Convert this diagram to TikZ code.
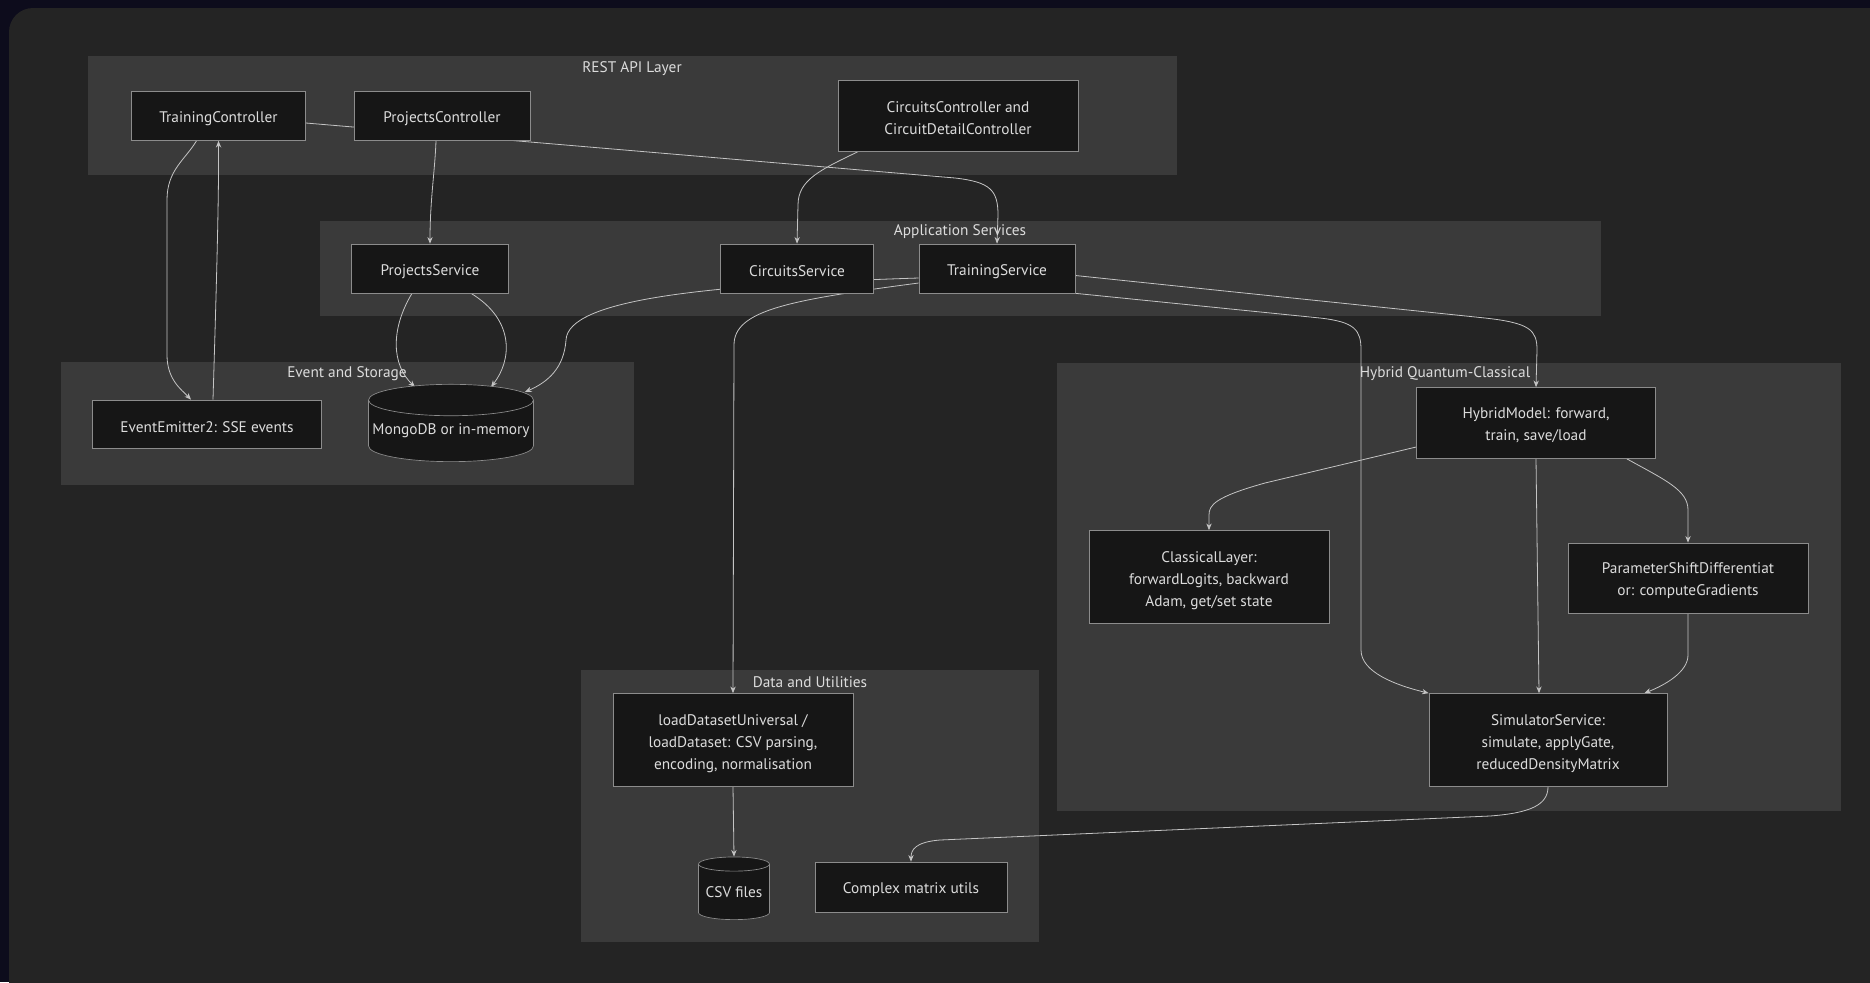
\documentclass[tikz,border=0pt]{standalone}
\usepackage{fontspec}
\setmainfont{PT Sans}
\usetikzlibrary{calc,positioning,shapes.geometric,backgrounds,arrows.meta}
\pgfdeclarelayer{edgelayer}
\pgfsetlayers{background,edgelayer,main}
\definecolor{frame}{HTML}{0D0C1C}
\definecolor{panel}{HTML}{242424}
\definecolor{cluster}{HTML}{3A3A3A}
\definecolor{boxfill}{HTML}{161616}
\definecolor{boxline}{HTML}{8C8C8C}
\definecolor{ink}{HTML}{DCDCDC}
\definecolor{wire}{HTML}{C4C4C4}

\begin{document}
\begin{tikzpicture}
  [x=0.75pt,y=0.75pt,>={Stealth[length=5pt,width=4pt]},
   every node/.style={font=\fontsize{11.5}{16.5}\selectfont,text=ink},
   box/.style={rectangle,draw=boxline,fill=boxfill,line width=0.5pt,align=center,inner sep=0pt,
     minimum height=36.75pt,execute at begin node={\rule{0pt}{12.5pt}}},
   twoline/.style={box,text height=28.5pt},
   tallbox/.style={box,minimum width=180pt,minimum height=69.75pt,text height=46.3pt},
   store/.style={cylinder,shape border rotate=90,draw=boxline,fill=boxfill,line width=0.5pt,inner sep=0pt},
   group/.style={fill=cluster},
   link/.style={draw=wire,line width=0.6pt,->}]
  \useasboundingbox (0,0) rectangle (1870,-982);
  \clip (0,0) rectangle (1870,-982);

  % REST API Layer
  \node (ntc) [box,minimum width=130.5pt] at (218.5,-116) {TrainingController};
  \node (npc) [box,minimum width=132pt] at (442,-116) {ProjectsController};
  \node (ncc) [twoline,minimum width=180pt,minimum height=53.25pt] at (958,-116) {CircuitsController and\\CircuitDetailController};
  \node (nrestlabel) at (632,-69) {REST API Layer};

  % Application Services
  \node (nps) [box,minimum width=117.75pt] at (430,-268.5) {ProjectsService};
  \node (ncs) [box,minimum width=114.75pt] at (797,-268.5) {CircuitsService};
  \node (nts) [box,minimum width=117pt] at (997,-268.5) {TrainingService};
  \node (napplabel) at (960,-232) {Application Services};

  % Event and Storage
  \node (nee) [box,minimum width=171.75pt,minimum height=36pt] at (207,-424) {EventEmitter2: SSE events};
  \node (ndb) [store,aspect=0.2,minimum width=123.75pt,minimum height=58pt] at (451,-431) {MongoDB or in-memory};
  \node (neventlabel) at (347,-374) {Event and Storage};

  % Hybrid Quantum-Classical
  \node (nhm) [twoline,minimum width=179.25pt,minimum height=53.25pt] at (1536,-423) {HybridModel: forward,\\train, save/load};
  \node (ncl) [tallbox] at (1209,-577) {ClassicalLayer:\\forwardLogits, backward\\Adam, get/set state};
  \node (npsd) [twoline,minimum width=180pt,minimum height=52.5pt] at (1688,-578) {ParameterShiftDifferentiat\\or: computeGradients};
  \node (nss) [tallbox,minimum width=178.5pt] at (1548,-740) {SimulatorService:\\simulate, applyGate,\\reducedDensityMatrix};
  \node (nhybridlabel) at (1445,-374) {Hybrid Quantum-Classical};

  % Data and Utilities
  \node (nld) [tallbox] at (733,-740) {loadDatasetUniversal /\\loadDataset: CSV parsing,\\encoding, normalisation};
  \node (ncsv) [store,aspect=0.25,minimum width=53.25pt,minimum height=47pt] at (734,-892) {CSV files};
  \node (ncmu) [box,minimum width=144pt,minimum height=37.5pt] at (911,-887) {Complex matrix utils};
  \node (ndatalabel) at (810,-682) {Data and Utilities};

  \begin{pgfonlayer}{background}
    \fill[frame] (0,0) rectangle (1870,-982);
    \fill[panel,rounded corners=18pt] (9,-8) rectangle (1900,-1010);
    \fill[group] (88,-56) rectangle (1177,-175);
    \fill[group] (320,-221) rectangle (1601,-316);
    \fill[group] (61,-362) rectangle (634,-485);
    \fill[group] (1057,-363) rectangle (1841,-811);
    \fill[group] (581,-670) rectangle (1039,-942);
  \end{pgfonlayer}

  \begin{pgfonlayer}{edgelayer}
    % controllers
    \draw[link] ($(ntc.south)+(-22,0)$) .. controls (185,-160) and (167,-170) .. (167,-200)
      -- (167,-355) .. controls (167,-380) and (182,-390) .. ($(nee.north)+(-16,0)$);
    \draw[link] ($(nee.north)+(6,0)$) .. controls (216,-300) and (219,-200) .. (ntc.south);
    \draw[link] ($(ntc.east)+(0,-7)$) -- (955,-178) .. controls (990,-182) and (998,-190) .. (998,-215) -- (nts.north);
    \draw[link] ($(npc.south)+(-6,0)$) .. controls (435,-170) and (430,-200) .. (nps.north);
    \draw[link] ($(ncc.south west)+(20,0)$) .. controls (820,-170) and (798,-180) .. (798,-205) -- (ncs.north);

    % services to storage and data
    \draw[link] ($(nps.south)+(-18,0)$) .. controls (390,-330) and (392,-365) .. ($(ndb.north)+(-36,-3)$);
    \draw[link] ($(nps.south)+(41,0)$) .. controls (515,-320) and (512,-360) .. ($(ndb.north)+(40,-3)$);
    \draw[link] ($(nts.west)+(0,-9.5)$) .. controls (700,-285) and (568,-300) .. (566,-340)
      .. controls (564,-368) and (548,-382) .. ($(ndb.north)+(74,-8)$);
    \draw[link] ($(nts.west)+(0,-14.5)$) .. controls (790,-300) and (734,-310) .. (734,-345) -- (nld.north);

    % training to hybrid
    \draw[link] ($(nts.east)+(0,-7)$) -- (1485,-318) .. controls (1530,-323) and (1537,-330) .. (1537,-350) -- (nhm.north);
    \draw[link] (nts.south east) -- (1320,-318) .. controls (1355,-322) and (1361,-330) .. (1361,-350)
      -- (1361,-650) .. controls (1361,-672) and (1395,-685) .. (nss.north west);
    \draw[link] ($(nhm.west)+(0,-24)$) -- (1265,-483) .. controls (1215,-497) and (1209,-505) .. (1209,-515) -- (ncl.north);
    \draw[link] (nhm.south) -- ($(nss.north)+(-9,0)$);
    \draw[link] ($(nhm.south east)+(-29,0)$) .. controls (1665,-480) and (1688,-490) .. (1688,-510) -- (npsd.north);
    \draw[link] (npsd.south) -- (1688,-655) .. controls (1688,-672) and (1665,-685) .. ($(nss.north east)+(-23,0)$);

    % data and utilities
    \draw[link] (nld.south) -- (ncsv.north);
    \draw[link] (nss.south) .. controls (1548,-805) and (1530,-813) .. (1490,-816) -- (940,-840)
      .. controls (915,-842) and (911,-850) .. (ncmu.north);
  \end{pgfonlayer}
\end{tikzpicture}
\end{document}
